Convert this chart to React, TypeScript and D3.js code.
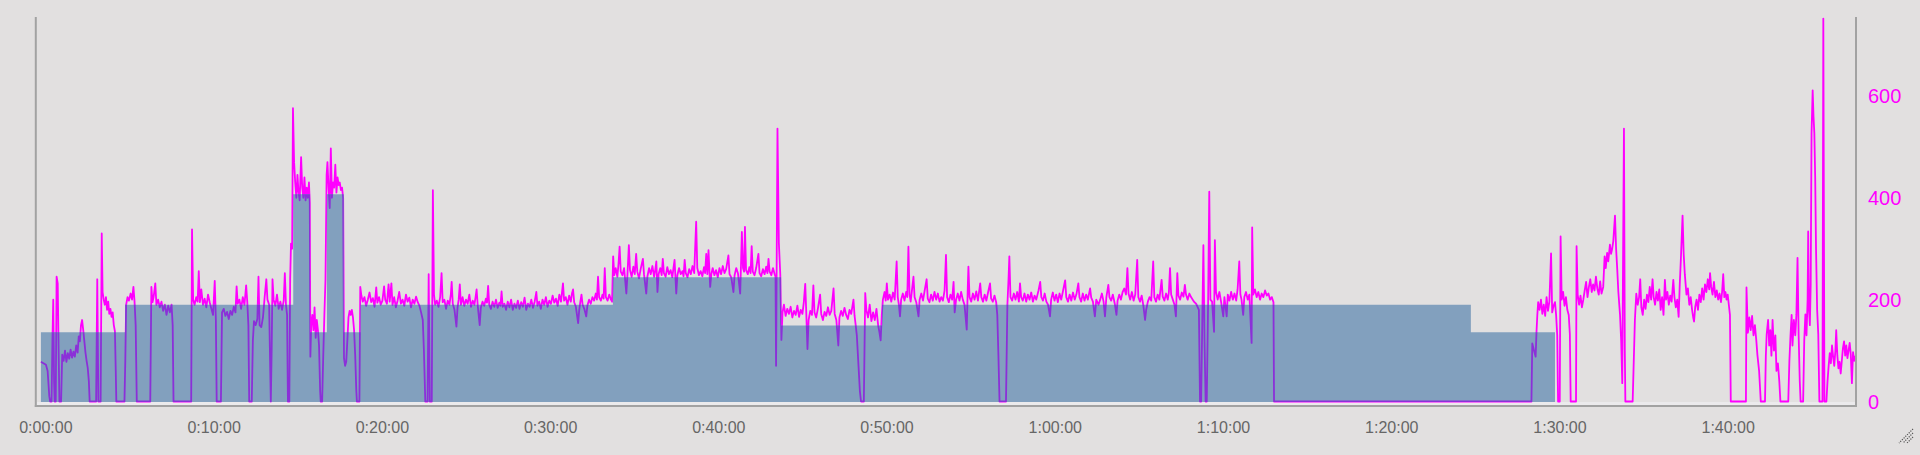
import React from 'react';
import * as d3 from 'd3';

const WIDTH = 1920;
const HEIGHT = 455;
const DURATION = 6470;
const Y_MAX = 755;

const timeTicks = [0, 600, 1200, 1800, 2400, 3000, 3600, 4200, 4800, 5400, 6000];
const timeTickLabels = ['0:00:00', '0:10:00', '0:20:00', '0:30:00', '0:40:00', '0:50:00', '1:00:00', '1:10:00', '1:20:00', '1:30:00', '1:40:00'];
const powerTicks = [0, 200, 400, 600];

// target (workout step) blocks, watts
const targetStarts = [0, 300, 900, 960, 1020, 1080, 1140, 2040, 2640, 3000, 5100];
const targetWatts = [136, 190, 407, 136, 407, 136, 190, 244, 149, 190, 136];
const targetEnd = 5400;

// recorded power [seconds, watts]
const powerWarmup: [number, number][] = [
  [0,78],[6,76],[12,74],[18,72],[24,60],[30,10],[33,0],[38,0],[41,115],[44,200],[47,40],[49,0],[53,0],[56,245],[60,232],[63,110],[66,0],[72,0],[76,92],[81,80],[86,100],[91,78],[96,95],[101,84],[106,102],[111,86],[116,98],[121,88],[126,110],[131,96],[135,128],[139,118],[143,150],[147,160],[151,140],[155,118],[159,96],[163,80],[167,66],[171,40],[174,0],[197,0],[201,240],[205,0],[213,0],[217,330],[220,215],[224,200],[228,190],[232,205],[236,180],[240,196],[244,172],[248,182],[252,166],[256,175],[260,150],[264,138],[267,60],[269,0],[298,0],
];
const powerBuild: [number, number][] = [
  [301,80],[304,190],[309,205],[314,198],[320,212],[325,200],[330,225],[334,196],[338,150],[342,0],[390,0],[394,225],[398,195],[402,205],[408,232],[412,190],[418,200],[424,185],[430,196],[436,178],[442,190],[448,170],[454,188],[460,175],[466,190],[470,150],[473,0],[536,0],[539,338],[543,200],[548,190],[554,205],[559,196],[563,256],[567,195],[572,220],[578,190],[584,202],[590,185],[596,210],[602,195],[608,182],[614,170],[620,237],[624,160],[627,0],[642,0],[646,175],[652,182],[658,168],[664,176],[670,162],[676,178],[682,170],[688,186],[694,175],[698,226],[702,192],[708,200],[714,182],[720,205],[726,190],[732,228],[736,196],[740,150],[743,0],[752,0],[756,120],[760,158],[766,150],[772,162],[776,245],[780,150],[786,146],[792,165],[798,205],[804,240],[808,200],[814,190],[818,60],[820,0],[823,100],[826,240],[830,200],[836,188],[842,210],[848,182],[854,196],[860,180],[866,198],[870,252],[874,190],[878,170],[881,0],[886,0],[889,240],[892,310],[896,300],
];
const powerIntervals: [number, number][] = [
  [899,576],[903,470],[907,430],[911,400],[915,445],[919,410],[923,395],[928,480],[932,420],[936,400],[940,440],[944,395],[948,420],[952,400],[956,430],[959,390],[961,88],[964,150],[968,170],[972,140],[976,185],[980,125],[984,160],[988,140],[992,110],[996,20],[998,0],[1003,0],[1007,90],[1011,170],[1015,240],[1019,445],[1022,470],[1026,420],[1030,380],[1034,497],[1038,400],[1042,430],[1046,420],[1050,465],[1054,410],[1058,440],[1062,425],[1066,430],[1070,415],[1074,420],[1078,400],[1081,85],[1085,70],[1089,78],[1093,120],[1097,165],[1101,178],[1105,170],[1109,180],[1113,165],[1117,140],[1121,90],[1125,20],[1127,0],[1136,0],
];
const powerTempo1: [number, number][] = [
  [1139,225],[1143,208],[1148,196],[1154,205],[1160,188],[1166,200],[1172,214],[1178,195],[1184,203],[1190,186],[1196,224],[1200,194],[1206,205],[1212,190],[1218,198],[1224,226],[1228,200],[1234,192],[1240,230],[1244,196],[1250,232],[1254,190],[1260,205],[1266,185],[1272,198],[1278,215],[1284,192],[1290,200],[1296,188],[1302,210],[1308,196],[1314,204],[1320,185],[1326,200],[1332,192],[1338,206],[1344,195],[1350,188],[1356,175],[1362,160],[1366,100],[1371,0],[1379,0],[1383,250],[1387,0],[1394,0],[1398,415],[1402,210],[1406,190],
  [1412,198],[1418,186],[1424,205],[1429,252],[1433,195],[1439,200],[1445,182],[1451,198],[1457,190],[1462,210],[1465,235],[1469,192],[1475,180],[1482,147],[1486,185],[1490,200],[1494,230],[1498,190],[1504,205],[1510,188],[1516,200],[1522,192],[1528,210],[1534,186],[1540,198],[1546,190],[1550,204],[1554,220],[1558,188],[1565,150],[1569,184],[1575,196],[1581,188],[1587,202],[1591,194],[1595,227],[1599,190],[1605,182],[1611,196],[1617,186],[1623,200],[1629,184],[1635,194],[1639,188],[1643,216],[1647,186],[1653,192],[1659,180],[1665,196],[1671,185],[1677,200],[1683,180],[1689,192],[1695,184],[1701,198],[1707,182],[1713,195],[1719,186],[1725,204],[1731,180],[1737,192],[1743,186],[1749,200],[1755,184],[1761,196],[1767,215],[1771,188],[1777,196],[1783,182],[1789,200],[1795,190],[1801,205],[1807,186],[1813,198],[1819,192],[1825,208],[1831,194],[1837,202],[1843,188],[1849,210],[1855,196],[1862,232],[1866,198],[1872,205],[1878,190],[1884,208],[1890,196],[1894,212],[1898,220],[1902,195],[1908,186],[1916,154],[1920,180],[1924,196],[1928,210],[1932,190],[1938,182],[1945,167],[1949,188],[1955,200],[1961,192],[1967,205],[1973,198],[1979,212],[1983,200],[1987,245],[1991,205],[1997,198],[2003,210],[2007,202],[2011,262],[2015,205],[2021,198],[2027,210],[2033,200],[2037,196],
];
const powerSweetSpot: [number, number][] = [
  [2041,285],[2045,248],[2050,262],[2056,245],[2060,270],[2064,304],[2068,255],[2074,248],[2080,262],[2088,212],[2092,250],[2097,307],[2101,258],[2107,245],[2113,265],[2118,250],[2123,290],[2127,255],[2133,242],[2139,260],[2147,280],[2151,250],[2159,212],[2163,245],[2169,262],[2175,250],[2181,266],[2187,245],[2191,258],[2195,275],[2199,215],[2203,250],[2209,262],[2214,248],[2218,280],[2222,252],[2228,245],[2234,264],[2240,250],[2246,258],[2252,244],[2256,262],[2260,278],[2266,212],[2270,248],[2276,262],[2282,250],[2288,256],[2292,246],[2296,278],[2300,252],[2306,244],[2312,260],[2318,250],[2324,266],[2330,252],[2337,353],[2341,262],[2347,248],[2353,256],[2359,246],[2365,264],[2369,252],[2373,290],[2377,250],[2381,297],[2387,225],[2391,250],[2396,262],[2402,248],[2408,258],[2414,244],[2420,262],[2426,250],[2432,266],[2438,252],[2444,260],[2452,287],[2456,250],[2462,244],[2470,215],[2474,248],[2480,262],[2486,252],[2494,212],[2497,270],[2500,333],[2504,262],[2508,255],[2511,343],[2515,258],[2521,250],[2527,264],[2531,252],[2535,305],[2539,255],[2545,248],[2551,262],[2559,290],[2563,252],[2569,246],[2575,260],[2581,250],[2587,265],[2591,252],[2595,280],[2599,255],[2605,248],[2611,262],[2617,250],[2620,245],[2622,70],[2627,536],[2632,311],[2637,250],[2641,121],
];
const powerRecovery: [number, number][] = [
  [2645,175],[2650,190],[2656,168],[2662,182],[2668,172],[2674,186],[2680,165],[2686,178],[2692,170],[2698,188],[2704,166],[2710,180],[2716,172],[2721,195],[2726,231],[2730,170],[2734,103],[2738,160],[2744,178],[2750,170],[2755,228],[2759,175],[2765,165],[2771,182],[2779,210],[2783,172],[2789,160],[2795,176],[2801,168],[2807,185],[2813,170],[2819,178],[2827,222],[2831,172],[2837,160],[2844,110],[2848,165],[2854,178],[2860,168],[2866,184],[2872,170],[2878,162],[2884,180],[2890,172],[2898,200],[2902,168],[2906,150],[2910,130],[2916,70],[2921,20],[2925,0],[2935,0],[2940,213],[2944,180],[2950,165],[2956,190],[2962,158],[2968,175],[2974,160],[2980,182],[2986,150],[2990,138],[2995,120],[2999,170],
];
const powerTempo2: [number, number][] = [
  [3003,200],[3009,215],[3013,198],[3017,232],[3021,200],[3027,210],[3033,196],[3039,214],[3045,200],[3052,275],[3056,205],[3060,190],[3064,167],[3068,200],[3074,212],[3080,198],[3086,215],[3090,205],[3094,304],[3098,210],[3102,196],[3107,220],[3112,245],[3116,205],[3122,195],[3130,167],[3134,200],[3140,212],[3146,198],[3152,218],[3159,240],[3163,202],[3169,195],[3175,210],[3181,198],[3187,215],[3193,200],[3199,212],[3205,196],[3211,205],[3217,198],[3223,218],[3228,288],[3232,205],[3238,195],[3244,210],[3250,200],[3255,235],[3259,175],[3264,200],[3270,212],[3276,198],[3282,215],[3288,200],[3294,190],[3302,141],[3306,230],[3308,265],[3312,205],[3318,196],[3324,212],[3330,200],[3336,216],[3342,198],[3350,232],[3354,205],[3360,196],[3366,210],[3372,198],[3378,214],[3385,232],[3389,202],[3395,196],[3401,208],[3407,195],[3411,170],[3415,90],[3419,0],[3442,0],[3447,190],[3451,240],[3454,285],[3458,205],[3464,198],[3470,212],[3476,200],[3482,215],[3488,196],[3492,232],[3496,205],[3502,198],[3508,212],[3514,196],[3520,210],[3526,200],[3532,214],[3538,196],[3544,208],[3550,200],[3558,218],[3564,235],[3568,205],[3574,198],[3580,212],[3586,196],[3592,190],[3599,167],[3603,200],[3609,214],[3615,198],[3621,210],[3627,195],[3633,212],[3639,200],[3645,216],[3653,238],[3657,205],[3663,196],[3669,210],[3675,198],[3681,214],[3687,200],[3693,210],[3700,232],[3704,205],[3710,196],[3716,212],[3722,198],[3728,210],[3734,200],[3742,222],[3746,204],[3752,196],[3759,167],[3764,200],[3772,190],
  [3778,200],[3784,212],[3790,196],[3795,167],[3800,205],[3807,229],[3811,205],[3817,198],[3823,210],[3830,192],[3836,170],[3840,198],[3846,210],[3852,200],[3858,215],[3864,222],[3870,210],[3875,262],[3879,212],[3885,200],[3891,215],[3897,198],[3903,210],[3910,278],[3914,205],[3920,196],[3926,208],[3932,188],[3938,160],[3942,180],[3948,196],[3954,205],[3960,198],[3967,275],[3971,205],[3977,196],[3983,210],[3989,200],[3997,239],[4001,206],[4007,198],[4013,212],[4019,200],[4023,215],[4027,262],[4031,210],[4037,200],[4043,190],[4048,167],[4053,252],[4057,208],[4063,200],[4069,214],[4075,206],[4080,229],[4084,210],[4090,200],[4096,212],[4102,205],[4108,200],[4114,195],[4120,192],[4126,185],[4130,180],[4134,0],[4138,0],[4146,307],[4150,120],[4154,0],[4158,0],[4163,200],[4167,412],[4171,200],[4177,196],[4184,137],[4187,317],[4191,215],[4197,200],[4203,215],[4209,196],[4217,167],[4221,205],[4229,167],[4233,210],[4239,198],[4245,215],[4251,200],[4257,212],[4263,198],[4268,220],[4274,275],[4278,210],[4282,200],[4288,170],[4292,205],[4298,215],[4304,200],[4310,210],[4318,115],[4320,342],[4324,210],[4330,220],[4336,205],[4342,215],[4348,200],[4354,212],[4360,205],[4366,218],[4372,208],[4378,212],[4384,200],[4390,205],[4396,195],[4398,0],
];
const powerCooldown: [number, number][] = [
  [5316,0],[5319,114],[5323,105],[5327,96],[5331,88],[5334,136],[5337,170],[5340,195],[5345,180],[5350,200],[5355,172],[5360,190],[5365,168],[5370,205],[5375,178],[5380,196],[5386,291],[5390,175],[5395,188],[5400,195],[5404,170],[5408,130],[5411,0],[5417,0],[5420,324],[5424,200],[5429,215],[5434,188],[5439,205],[5444,180],[5449,170],[5453,133],[5456,0],[5475,0],[5477,305],[5481,210],[5486,190],[5491,208],[5496,185],[5501,200],[5506,218],[5511,235],[5516,205],[5521,225],[5526,240],[5531,215],[5536,230],[5541,218],[5546,245],[5551,222],[5556,210],[5561,236],[5566,212],[5572,225],[5577,285],[5581,262],[5586,292],[5590,275],[5596,308],[5600,290],[5604,300],[5608,315],[5614,365],[5618,300],[5622,260],[5626,215],[5632,170],[5636,120],[5640,36],[5643,300],[5646,536],[5649,100],[5651,0],[5677,0],[5680,60],[5685,160],[5690,212],[5695,190],[5700,205],[5704,240],[5708,185],[5713,170],[5718,200],[5723,182],[5728,210],[5733,195],[5738,225],[5743,200],[5748,240],[5752,205],[5757,190],[5762,215],[5767,198],[5772,220],[5777,180],[5782,205],[5787,170],[5792,239],[5796,200],[5801,215],[5806,190],[5811,208],[5816,196],[5822,239],[5826,205],[5831,185],[5836,200],[5841,166],[5845,230],[5849,280],[5855,365],[5859,290],[5863,250],[5869,210],[5874,222],[5879,190],[5884,205],[5889,180],[5893,165],[5896,157],[5900,185],[5905,200],[5910,180],[5915,210],[5920,195],[5925,222],[5930,200],[5935,230],[5940,215],[5945,240],[5950,220],[5953,252],[5957,225],[5962,210],[5967,235],[5972,205],[5977,218],[5982,200],[5987,212],[5992,195],[5996,215],[6000,250],[6004,205],[6008,215],[6012,200],[6016,210],[6020,190],[6024,170],[6027,0],[6081,0],[6083,224],[6088,135],[6093,165],[6098,140],[6103,168],[6108,130],[6113,150],[6118,120],[6122,91],[6128,60],[6134,0],[6149,0],[6152,90],[6155,132],[6160,160],[6164,110],[6168,140],[6172,90],[6176,160],[6181,100],[6186,130],[6190,60],[6195,75],[6200,40],[6204,0],[6232,0],[6236,80],[6240,130],[6244,170],[6247,110],[6252,160],[6257,130],[6261,170],[6265,282],[6269,130],[6273,40],[6276,0],[6285,0],[6289,120],[6293,171],[6297,130],[6301,200],[6303,334],[6306,180],[6309,150],[6312,230],[6315,527],[6319,611],[6322,560],[6325,527],[6328,440],[6331,300],[6335,180],[6339,132],[6343,0],[6354,0],[6357,752],[6361,0],[6368,0],[6372,40],[6376,70],[6380,95],[6384,75],[6388,110],[6392,88],[6396,70],[6400,100],[6403,140],[6407,90],[6411,65],[6415,78],[6419,55],[6423,80],[6427,105],[6431,118],[6435,90],[6439,110],[6443,85],[6447,100],[6451,115],[6455,92],[6459,36],[6463,97],[6467,80],[6470,90],
];

const power: [number, number][] = [
  ...powerWarmup, ...powerBuild, ...powerIntervals, ...powerTempo1,
  ...powerSweetSpot, ...powerRecovery, ...powerTempo2, ...powerCooldown,
];

const COLORS = {
  bg: '#e2e0e0',
  area: '#82a0be',
  magenta: '#ff00ff',
  purple: '#8b30d8',
  axis: '#a2a2a2',
  text: '#666666',
};

export default function App() {
  const x = d3.scaleLinear().domain([0, DURATION]).range([40.9, 1855]);
  const y = d3.scaleLinear().domain([0, Y_MAX]).range([401.5, 17]);

  const targetPts: [number, number][] = targetStarts.map((s, i) => [s, targetWatts[i]]);
  targetPts.push([targetEnd, targetWatts[targetWatts.length - 1]]);
  const areaGen = d3.area<[number, number]>()
    .x(d => x(d[0]))
    .y0(y(0) + 0.5)
    .y1(d => y(d[1]))
    .curve(d3.curveStepAfter);
  const areaPath = areaGen(targetPts) || '';

  const lineGen = d3.line<[number, number]>()
    .x(d => x(d[0]))
    .y(d => y(d[1]));
  const linePath = lineGen(power) || '';

  const font = '"Liberation Sans", Arial, Helvetica, sans-serif';

  return (
    <svg width={WIDTH} height={HEIGHT} style={{ position: 'absolute', left: 0, top: 0, display: 'block' }}>
      <defs>
        <clipPath id="targetClip">
          <path d={areaPath} />
        </clipPath>
      </defs>
      <rect x={0} y={0} width={WIDTH} height={HEIGHT} fill={COLORS.bg} />
      <rect x={37} y={y(0) + 0.5} width={1818} height={3.5} fill="#ebeaec" />
      <path d={linePath} fill="none" stroke={COLORS.magenta} strokeWidth={1.8} strokeLinejoin="round" />
      <path d={areaPath} fill={COLORS.area} />
      <path d={linePath} fill="none" stroke={COLORS.purple} strokeWidth={1.8} strokeLinejoin="round" clipPath="url(#targetClip)" />
      {/* axes */}
      <line x1={35.8} x2={35.8} y1={17} y2={407} stroke={COLORS.axis} strokeWidth={2} />
      <line x1={1856} x2={1856} y1={17} y2={407} stroke={COLORS.axis} strokeWidth={2} />
      <line x1={34.8} x2={1857} y1={406} y2={406} stroke={COLORS.axis} strokeWidth={2} />
      {timeTicks.map((t, i) => (
        <text key={t} x={x(t) + 5} y={433} textAnchor="middle" fontFamily={font} fontSize={16} fill={COLORS.text}>
          {timeTickLabels[i]}
        </text>
      ))}
      {powerTicks.map(v => (
        <text key={v} x={1868} y={y(v) + 7} textAnchor="start" fontFamily={font} fontSize={20} fill={COLORS.magenta}>
          {v}
        </text>
      ))}
      {/* resize grip */}
      <g stroke="#555" strokeWidth={1.2} strokeDasharray="1.2,1.2">
        <line x1={1913} y1={429} x2={1899} y2={443} />
        <line x1={1913} y1={433} x2={1903} y2={443} />
        <line x1={1913} y1={437} x2={1907} y2={443} />
      </g>
    </svg>
  );
}
